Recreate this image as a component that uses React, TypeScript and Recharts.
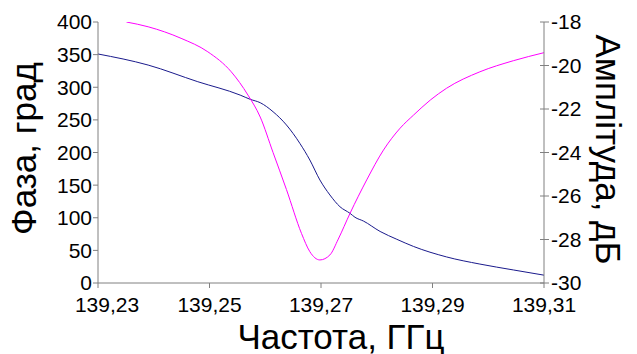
import React from 'react';
import { LineChart, Line, XAxis, YAxis, Label } from 'recharts';

const xTicks = [139.23, 139.25, 139.27, 139.29, 139.31];
const phaseTicks = [0, 50, 100, 150, 200, 250, 300, 350, 400];
const ampTicks = [-30, -28, -26, -24, -22, -20, -18];

const phaseFreq = [139.23, 139.239, 139.2479, 139.2555, 139.2573, 139.2591, 139.2614, 139.2638, 139.2662, 139.268, 139.2698, 139.2716, 139.2734, 139.2752, 139.2761, 139.2776, 139.2806, 139.2836, 139.2866, 139.2925, 139.2985, 139.3045, 139.31];
const phaseVal = [351, 334, 308.5, 288, 281.5, 276.3, 262.5, 242.2, 214.1, 188.5, 157.9, 134.9, 116.9, 106.8, 100.7, 95, 79, 67, 56, 40, 29, 20, 12];

const ampFreq = [139.2351, 139.239, 139.2449, 139.2497, 139.2539, 139.2569, 139.2591, 139.2614, 139.2638, 139.2665, 139.268, 139.2698, 139.2716, 139.2731, 139.2752, 139.2782, 139.2812, 139.2842, 139.2866, 139.2896, 139.2925, 139.2985, 139.3045, 139.31];
const ampVal = [-18.0, -18.22, -18.75, -19.37, -20.29, -21.36, -22.37, -24.0, -25.7, -27.72, -28.56, -28.94, -28.71, -27.98, -26.8, -25.26, -23.89, -22.88, -22.28, -21.59, -21.05, -20.29, -19.78, -19.41];

const phaseData = phaseFreq.map((f, i) => ({ f, phase: phaseVal[i] }));
const ampData = ampFreq.map((f, i) => ({ f, amp: ampVal[i] }));

const FONT = 'Liberation Sans';
const AXIS = '#808080';
const TICK_FS = 21;
const TITLE_FS = 35;

const fmt = (v: number) => v.toFixed(2).replace('.', ',');

const XTick = (props: any) => {
  const { x, y, payload, index } = props;
  const dx = index === 0 ? 9 : 0;
  return (
    <text x={x + dx} y={y} dy="0.71em" textAnchor="middle" fontFamily={FONT} fontSize={TICK_FS} fill="#000">
      {fmt(payload.value)}
    </text>
  );
};

const LeftTick = (props: any) => {
  const { x, y, payload } = props;
  return (
    <text x={x} y={y} dy="0.355em" textAnchor="end" fontFamily={FONT} fontSize={TICK_FS} fill="#000">
      {String(payload.value)}
    </text>
  );
};

const RightTick = (props: any) => {
  const { x, y, payload } = props;
  return (
    <g>
      <line x1={x - 11} x2={x - 2} y1={y} y2={y} stroke={AXIS} strokeWidth={1} />
      <text x={x} y={y} dy="0.355em" textAnchor="start" fontFamily={FONT} fontSize={TICK_FS} fill="#000">
        {String(payload.value)}
      </text>
    </g>
  );
};

export default function App() {
  return (
    <div style={{ position: 'absolute', left: 0, top: 0, background: '#fff' }}>
      <LineChart width={637} height={354} margin={{ top: 22, right: 0, bottom: 0, left: 0 }}>
        <XAxis
          dataKey="f"
          type="number"
          domain={[139.23, 139.31]}
          ticks={xTicks}
          allowDataOverflow
          stroke={AXIS}
          tickSize={5}
          tickMargin={9}
          height={71}
          tick={<XTick />}
        >
          <Label
            content={(p: any) => {
              const vb = p.viewBox;
              return (
                <text x={vb.x + vb.width / 2 + 20} y={vb.y + 66} textAnchor="middle" fontFamily={FONT} fontSize={TITLE_FS} fill="#000">
                  Частота, ГГц
                </text>
              );
            }}
          />
        </XAxis>
        <YAxis
          yAxisId="left"
          orientation="left"
          domain={[0, 400]}
          ticks={phaseTicks}
          allowDataOverflow
          width={98}
          stroke={AXIS}
          tickSize={5}
          tickMargin={1}
          tick={<LeftTick />}
        >
          <Label
            content={(p: any) => {
              const vb = p.viewBox;
              const cx = 36;
              const cy = vb.y + vb.height / 2 - 4;
              return (
                <text x={cx} y={cy} transform={`rotate(-90, ${cx}, ${cy})`} textAnchor="middle" fontFamily={FONT} fontSize={TITLE_FS} fill="#000">
                  Фаза, град
                </text>
              );
            }}
          />
        </YAxis>
        <YAxis
          yAxisId="right"
          orientation="right"
          domain={[-30, -18]}
          ticks={ampTicks}
          allowDataOverflow
          width={93}
          stroke={AXIS}
          tickLine={false}
          tickSize={5}
          tickMargin={2}
          tick={<RightTick />}
        >
          <Label
            content={(p: any) => {
              const vb = p.viewBox;
              const cx = 596;
              const cy = vb.y + vb.height / 2 - 3;
              return (
                <text x={cx} y={cy} transform={`rotate(90, ${cx}, ${cy})`} textAnchor="middle" fontFamily={FONT} fontSize={TITLE_FS} fill="#000">
                  Амплітуда, дБ
                </text>
              );
            }}
          />
        </YAxis>
        <Line
          yAxisId="left"
          data={phaseData}
          dataKey="phase"
          type="monotone"
          stroke="#1a1a8c"
          strokeWidth={1}
          dot={false}
          isAnimationActive={false}
        />
        <Line
          yAxisId="right"
          data={ampData}
          dataKey="amp"
          type="monotone"
          stroke="#ff00ff"
          strokeWidth={1}
          dot={false}
          isAnimationActive={false}
        />
      </LineChart>
    </div>
  );
}
